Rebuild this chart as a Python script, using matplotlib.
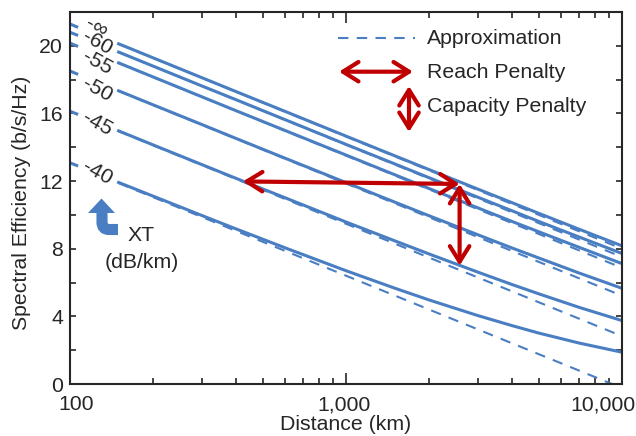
import matplotlib
matplotlib.use("Agg")
import matplotlib.pyplot as plt
from matplotlib.patches import PathPatch, Polygon
from matplotlib.path import Path

plt.rcParams['font.family'] = ['Liberation Sans', 'DejaVu Sans']
plt.rcParams['font.size'] = 15.3

BLUE = '#4A7EC2'
RED = '#C00000'
INK = '#262626'

# crosstalk curves (XT in dB/km)
xt_labels = ['-\u221e', '-60', '-55', '-50', '-45', '-40']

stub_km = [100, 107]
stub_se = [[21.29, 21.09],
           [20.80, 20.61],
           [20.16, 19.96],
           [18.51, 18.31],
           [16.13, 15.94],
           [13.08, 12.89]]

dist_km = [150, 200, 300, 400, 600, 1000, 1500, 2000, 3000, 4000, 5000, 7000, 10000]
se_inf = [20.12, 19.29, 18.12, 17.29, 16.13, 14.66, 13.50, 12.68, 11.53, 10.72, 10.09, 9.15, 8.17]
se_60 = [19.63, 18.80, 17.63, 16.81, 15.64, 14.17, 13.02, 12.20, 11.05, 10.24, 9.61, 8.69, 7.72]
se_55 = [18.99, 18.16, 16.99, 16.16, 15.00, 13.54, 12.38, 11.56, 10.42, 9.61, 9.00, 8.08, 7.12]
se_50 = [17.34, 16.51, 15.35, 14.52, 13.36, 11.91, 10.76, 9.95, 8.83, 8.04, 7.45, 6.56, 5.66]
se_45 = [14.97, 14.14, 12.98, 12.16, 11.02, 9.58, 8.47, 7.69, 6.62, 5.88, 5.33, 4.53, 3.75]
se_40 = [11.92, 11.11, 9.97, 9.17, 8.06, 6.70, 5.67, 4.97, 4.05, 3.45, 3.01, 2.42, 1.88]
solid_se = [se_inf, se_60, se_55, se_50, se_45, se_40]

# high-SNR approximation (straight on log axis)
approx_km = [150, 10000]
approx_se = [[20.11, 8.00],
             [19.63, 7.51],
             [18.98, 6.87],
             [17.33, 5.22],
             [14.95, 2.83],
             [11.88, -0.24]]

# penalty arrows
reach_km = [423, 2580]
reach_se = [11.98, 11.83]
cap_km = 2580
cap_se = [11.83, 7.0]

xticks = [100, 1000, 10000]
xtick_labels = ['100', '1,000', '10,000']
xtick_shift = [6, -2, -19]
yticks = [0, 4, 8, 12, 16, 20]

# label layout (centre of each XT label)
label_km = 125
label_se = [21.1, 20.2, 19.0, 17.4, 15.4, 12.5]

fig = plt.figure(figsize=(6.36, 4.36), dpi=100)
ax = fig.add_axes([70 / 636, 52 / 436, 552 / 636, 372 / 436])


def px(x, y):
    # reference pixel position -> axes fraction
    return ((x - 70) / 552, (384 - y) / 372)


for km_se in approx_se:
    ax.plot(approx_km, km_se, color=BLUE, lw=1.5, ls=(0, (5, 4)))
for s_se, se in zip(stub_se, solid_se):
    ax.plot(stub_km, s_se, color=BLUE, lw=2.2, solid_capstyle='butt')
    ax.plot(dist_km, se, color=BLUE, lw=2.2)

for lab, y in zip(xt_labels, label_se):
    ax.text(label_km, y, lab, rotation=-29, rotation_mode='anchor',
            ha='center', va='center', color=INK)

ax.set_xscale('log')
ax.set_xlim(100, 10000)
ax.set_ylim(0, 22)
ax.set_xticks(xticks)
ax.set_xticklabels([])
ax.set_yticks(yticks)
ax.set_yticks(range(0, 22, 2), minor=True)
ax.tick_params(which='both', direction='in', top=True, right=True,
               color=INK, labelcolor=INK, width=1.2)
ax.tick_params(axis='x', which='major', length=8)
ax.tick_params(axis='x', which='minor', length=4.5)
ax.tick_params(axis='y', which='both', length=4.5, pad=5)
for sp in ax.spines.values():
    sp.set_color(INK)
    sp.set_linewidth(1.5)

for t, lab, dx in zip(xticks, xtick_labels, xtick_shift):
    ax.annotate(lab, xy=(t, 0), xycoords=ax.get_xaxis_transform(),
                xytext=(dx / 1.389, -15), textcoords='offset points',
                ha='center', va='center', color=INK, annotation_clip=False)

ax.set_xlabel('Distance (km)', color=INK)
ax.xaxis.set_label_coords(0.5, -0.108)
ax.xaxis.label.set_va('center')
ax.set_ylabel('Spectral Efficiency (b/s/Hz)', color=INK)
ax.yaxis.set_label_coords(-0.087, 0.487)
ax.yaxis.label.set_va('center')

arrow_kw = dict(arrowstyle='<->,head_length=0.4,head_width=0.25',
                color=RED, lw=3, mutation_scale=28, shrinkA=0, shrinkB=0)
ax.annotate('', xy=(reach_km[0], reach_se[0]), xytext=(reach_km[1], reach_se[1]),
            arrowprops=arrow_kw)
ax.annotate('', xy=(cap_km, cap_se[1]), xytext=(cap_km, cap_se[0]),
            arrowprops=arrow_kw)

# legend drawn by hand
ax.plot(*zip(px(338, 38.5), px(415, 38.5)), transform=ax.transAxes,
        color=BLUE, lw=1.5, ls=(0, (5, 4)))
ax.text(*px(427, 38), 'Approximation', transform=ax.transAxes,
        ha='left', va='center', color=INK)
ax.annotate('', xy=px(339, 71.7), xytext=px(413, 71.7),
            xycoords='axes fraction', arrowprops=arrow_kw)
ax.text(*px(427, 73), 'Reach Penalty', transform=ax.transAxes,
        ha='left', va='center', color=INK)
ax.annotate('', xy=px(409, 132), xytext=px(409, 86),
            xycoords='axes fraction', arrowprops=arrow_kw)
ax.text(*px(427, 106), 'Capacity Penalty', transform=ax.transAxes,
        ha='left', va='center', color=INK)

# XT direction arrow: bent stem plus head
stem = Path([px(118, 229.5), px(109, 229.5), px(102, 229.5), px(102, 222), px(102, 212)],
            [Path.MOVETO, Path.LINETO, Path.CURVE3, Path.CURVE3, Path.LINETO])
ax.add_patch(PathPatch(stem, transform=ax.transAxes, fill=False,
                       edgecolor=BLUE, lw=8, capstyle='butt', joinstyle='miter'))
ax.add_patch(Polygon([px(88, 213), px(115, 213), px(101.5, 198.5)], closed=True,
                     transform=ax.transAxes, facecolor=BLUE, edgecolor='none'))
ax.text(*px(128, 235), 'XT', transform=ax.transAxes, ha='left', va='center', color=INK)
ax.text(*px(142, 263), '(dB/km)', transform=ax.transAxes, ha='center', va='center', color=INK)

fig.savefig('out.png', dpi=100)
